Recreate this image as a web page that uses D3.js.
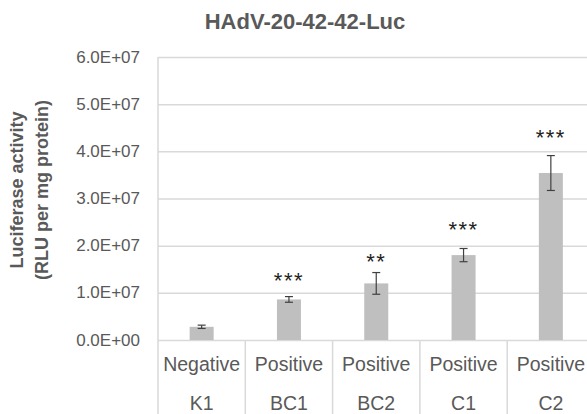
<!DOCTYPE html>
<html>
<head>
<meta charset="utf-8">
<script src="https://cdn.jsdelivr.net/npm/d3@7"></script>
<style>
  body { margin: 0; background: #fff; }
  svg { display: block; font-family: 'Liberation Sans', Arial, sans-serif; }
</style>
</head>
<body>
<script>
// data
const groups = ['Negative', 'Positive', 'Positive', 'Positive', 'Positive'];
const samples = ['K1', 'BC1', 'BC2', 'C1', 'C2'];
const means = [2.8e6, 8.6e6, 1.2e7, 1.8e7, 3.54e7];
const errors = [0.35e6, 0.6e6, 0.23e7, 0.14e7, 0.37e7];
const stars = ['', '***', '**', '***', '***'];
const starLevels = [0, 1.378e7, 1.766e7, 2.459e7, 4.395e7];
const yTicks = [0, 1e7, 2e7, 3e7, 4e7, 5e7, 6e7];

// constants
const chartW = 587;
const chartH = 414;
const plotLeft = 158;
const plotTop = 57;
const plotBottom = 340;
const bandW = 87.3;
const barW = 24;
const textColor = '#595959';
const gridColor = '#d9d9d9';

const svg = d3.select('body').append('svg')
  .attr('width', chartW)
  .attr('height', chartH);

const x = d3.scaleBand()
  .domain(d3.range(samples.length))
  .range([plotLeft, plotLeft + bandW * samples.length])
  .padding(0);
const y = d3.scaleLinear()
  .domain([0, 6e7])
  .range([plotBottom, plotTop]);

// gridlines + tick labels
const fmt = (v) => v.toExponential(1).replace('e+', 'E+0').toUpperCase();
const gy = svg.append('g').attr('transform', `translate(${plotLeft},0)`);
d3.axisLeft(y)
  .tickValues(yTicks)
  .tickSize(-(bandW * samples.length))
  .tickPadding(18)
  .tickFormat(fmt)(gy);
gy.select('.domain').remove();
gy.selectAll('.tick line').attr('stroke', gridColor).attr('stroke-width', 1.5);
gy.selectAll('.tick text')
  .attr('fill', textColor)
  .attr('font-size', 17)
  .attr('dy', '0.3em')
  .attr('font-family', 'Liberation Sans, Arial, sans-serif');

// vertical axis line and category dividers
svg.append('line')
  .attr('x1', plotLeft).attr('x2', plotLeft)
  .attr('y1', plotTop).attr('y2', chartH)
  .attr('stroke', gridColor).attr('stroke-width', 1.5);
svg.selectAll('line.div')
  .data(d3.range(1, samples.length + 1))
  .join('line')
  .attr('class', 'div')
  .attr('x1', (i) => x(0) + i * x.bandwidth())
  .attr('x2', (i) => x(0) + i * x.bandwidth())
  .attr('y1', plotBottom).attr('y2', chartH)
  .attr('stroke', gridColor).attr('stroke-width', 1.5);

// bars
const cx = (i) => x(i) + x.bandwidth() / 2;
svg.selectAll('rect.bar')
  .data(means)
  .join('rect')
  .attr('class', 'bar')
  .attr('x', (d, i) => cx(i) - barW / 2)
  .attr('y', (d) => y(d))
  .attr('width', barW)
  .attr('height', (d) => y(0) - y(d))
  .attr('fill', '#bfbfbf');

// error bars
const err = svg.selectAll('g.err')
  .data(means)
  .join('g')
  .attr('class', 'err')
  .attr('stroke', '#404040')
  .attr('stroke-width', 1.2);
err.append('line')
  .attr('x1', (d, i) => cx(i)).attr('x2', (d, i) => cx(i))
  .attr('y1', (d, i) => y(d + errors[i]))
  .attr('y2', (d, i) => y(d - errors[i]));
err.append('line')
  .attr('x1', (d, i) => cx(i) - 4).attr('x2', (d, i) => cx(i) + 4)
  .attr('y1', (d, i) => y(d + errors[i]))
  .attr('y2', (d, i) => y(d + errors[i]));
err.append('line')
  .attr('x1', (d, i) => cx(i) - 4).attr('x2', (d, i) => cx(i) + 4)
  .attr('y1', (d, i) => y(d - errors[i]))
  .attr('y2', (d, i) => y(d - errors[i]));

// significance stars
svg.selectAll('text.star')
  .data(stars)
  .join('text')
  .attr('class', 'star')
  .attr('x', (d, i) => cx(i))
  .attr('y', (d, i) => y(starLevels[i]) + 12.5)
  .attr('text-anchor', 'middle')
  .attr('font-size', 22)
  .attr('letter-spacing', 1.5)
  .attr('fill', '#222')
  .text((d) => d);

// two-level category labels
svg.selectAll('text.grp')
  .data(groups)
  .join('text')
  .attr('class', 'grp')
  .attr('x', (d, i) => cx(i))
  .attr('y', 371)
  .attr('text-anchor', 'middle')
  .attr('font-size', 19.5)
  .attr('fill', textColor)
  .text((d) => d);
svg.selectAll('text.smp')
  .data(samples)
  .join('text')
  .attr('class', 'smp')
  .attr('x', (d, i) => cx(i))
  .attr('y', 410)
  .attr('text-anchor', 'middle')
  .attr('font-size', 19.5)
  .attr('fill', textColor)
  .text((d) => d);

// title
svg.append('text')
  .attr('x', 305)
  .attr('y', 29)
  .attr('text-anchor', 'middle')
  .attr('font-size', 22)
  .attr('font-weight', 'bold')
  .attr('fill', textColor)
  .text('HAdV-20-42-42-Luc');

// y-axis label
const yl = svg.append('text')
  .attr('transform', 'translate(0,190) rotate(-90)')
  .attr('text-anchor', 'middle')
  .attr('font-size', 18)
  .attr('font-weight', 'bold')
  .attr('fill', textColor);
yl.append('tspan').attr('x', 0).attr('y', 23).text('Luciferase activity');
yl.append('tspan').attr('x', 0).attr('y', 48).text('(RLU per mg protein)');
</script>
</body>
</html>
